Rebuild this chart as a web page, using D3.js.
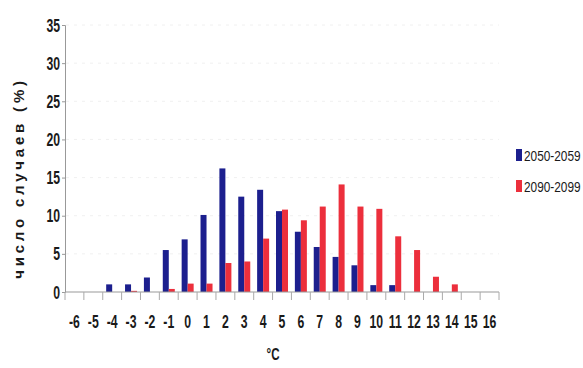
<!DOCTYPE html>
<html>
<head>
<meta charset="utf-8">
<script src="https://cdn.jsdelivr.net/npm/d3@7"></script>
<style>
  body { margin: 0; background: #fff; }
  svg text { font-family: "Liberation Sans", Arial, sans-serif; fill: #1a1a1a; }
</style>
</head>
<body>
<svg id="chart" width="583" height="368"></svg>
<script>
const temps = ["-6", "-5", "-4", "-3", "-2", "-1", "0", "1", "2", "3", "4", "5", "6", "7", "8", "9", "10", "11", "12", "13", "14", "15", "16"];
const series2050 = [0, 0, 1, 1, 1.9, 5.5, 6.9, 10.1, 16.2, 12.5, 13.4, 10.6, 7.9, 5.9, 4.6, 3.5, 0.9, 0.9, 0, 0, 0, 0, 0];
const series2090 = [0, 0, 0, 0.15, 0, 0.4, 1.1, 1.1, 3.8, 4.0, 7.0, 10.8, 9.4, 11.2, 14.1, 11.2, 10.9, 7.3, 5.5, 2.0, 1.0, 0, 0];
const seriesNames = ["2050-2059", "2090-2099"];
const seriesColors = ["#1c1f8e", "#ec2f3c"];
const yTicks = [0, 5, 10, 15, 20, 25, 30, 35];

const svg = d3.select("#chart");
const plotLeft = 65, plotRight = 499, plotTop = 25, plotBottom = 292;
const narrow = 0.68;

const x = d3.scaleBand().domain(temps).range([plotLeft, plotRight]).padding(0);
const y = d3.scaleLinear().domain([0, 35]).range([plotBottom, plotTop]);

// faint grid
svg.append("g")
  .selectAll("line")
  .data(yTicks.filter((t) => t > 0))
  .enter()
  .append("line")
  .attr("x1", plotLeft + 1)
  .attr("x2", plotRight)
  .attr("y1", (t) => y(t))
  .attr("y2", (t) => y(t))
  .attr("stroke", "#f0f0f0")
  .attr("stroke-dasharray", "3 5");

const barW = 6;
const rows = temps.map((t, i) => ({ t, a: series2050[i], b: series2090[i] }));

svg.append("g")
  .selectAll("rect")
  .data(rows.filter((r) => r.a > 0))
  .enter()
  .append("rect")
  .attr("x", (r) => x(r.t) + x.bandwidth() / 2 - barW)
  .attr("y", (r) => y(r.a))
  .attr("width", barW)
  .attr("height", (r) => y(0) - y(r.a))
  .attr("fill", seriesColors[0]);

svg.append("g")
  .selectAll("rect")
  .data(rows.filter((r) => r.b > 0))
  .enter()
  .append("rect")
  .attr("x", (r) => x(r.t) + x.bandwidth() / 2)
  .attr("y", (r) => y(r.b))
  .attr("width", barW)
  .attr("height", (r) => y(0) - y(r.b))
  .attr("fill", seriesColors[1]);

// y axis (labels drawn separately so they can be condensed)
const yAxis = svg.append("g")
  .attr("transform", `translate(${plotLeft},0)`)
  .call(d3.axisLeft(y).tickValues(yTicks).tickSize(3).tickFormat(""));
yAxis.select(".domain").attr("stroke", "#999");
yAxis.selectAll(".tick line").attr("stroke", "#999");

svg.append("g")
  .selectAll("text")
  .data(yTicks)
  .enter()
  .append("text")
  .attr("transform", (t) => `translate(60,${y(t) + 6.5}) scale(${narrow},1)`)
  .attr("text-anchor", "end")
  .attr("font-size", 18)
  .attr("font-weight", "bold")
  .text((t) => t);

// x axis with ticks at band edges
svg.append("line")
  .attr("x1", plotLeft).attr("x2", plotRight)
  .attr("y1", plotBottom).attr("y2", plotBottom)
  .attr("stroke", "#999");
svg.append("g")
  .selectAll("line")
  .data(temps.concat(["end"]))
  .enter()
  .append("line")
  .attr("x1", (d, i) => plotLeft + i * x.bandwidth())
  .attr("x2", (d, i) => plotLeft + i * x.bandwidth())
  .attr("y1", plotBottom)
  .attr("y2", plotBottom + 8)
  .attr("stroke", "#aaa");
svg.append("g")
  .selectAll("text")
  .data(temps)
  .enter()
  .append("text")
  .attr("transform", (t) => `translate(${x(t) + x.bandwidth() / 2},328) scale(${narrow},1)`)
  .attr("text-anchor", "middle")
  .attr("font-size", 18)
  .attr("font-weight", "bold")
  .text((t) => t);

svg.append("text")
  .attr("transform", `translate(273,360) scale(${narrow},1)`)
  .attr("text-anchor", "middle")
  .attr("font-size", 17)
  .attr("font-weight", "bold")
  .text("°C");

svg.append("text")
  .attr("transform", "translate(24,178) rotate(-90)")
  .attr("text-anchor", "middle")
  .attr("font-size", 15)
  .attr("font-weight", "bold")
  .attr("letter-spacing", 3.8)
  .text("число случаев (%)");

// legend
const legend = svg.append("g");
seriesNames.forEach((name, i) => {
  const ly = 155 + i * 31;
  legend.append("rect")
    .attr("x", 516).attr("y", ly - 6)
    .attr("width", 6).attr("height", 12)
    .attr("fill", seriesColors[i]);
  legend.append("text")
    .attr("transform", `translate(524,${ly + 6}) scale(0.79,1)`)
    .attr("font-size", 15)
    .text(name);
});
</script>
</body>
</html>
